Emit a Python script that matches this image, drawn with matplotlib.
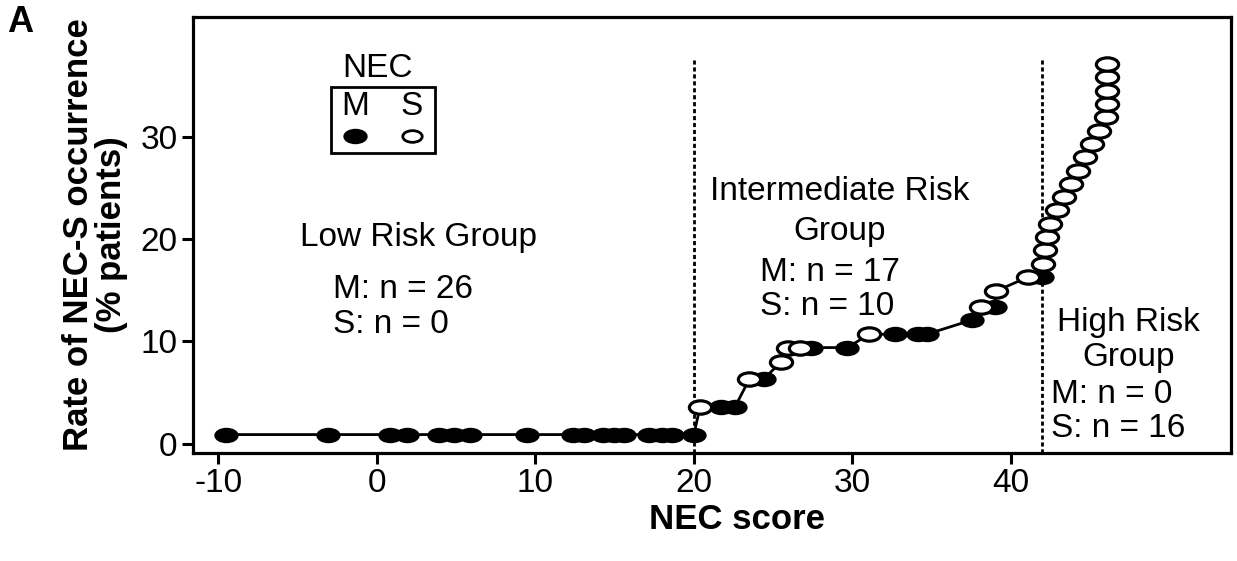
import numpy as np
import matplotlib
matplotlib.use("Agg")
import matplotlib.pyplot as plt
from matplotlib.path import Path
from matplotlib.patches import Rectangle

plt.rcParams['font.family'] = ['Liberation Sans', 'DejaVu Sans']
plt.rcParams['axes.unicode_minus'] = False

# ---- data ----
m_x = [-9.5, -3.05, 0.82, 1.9, 3.9, 4.85, 5.9, 9.45, 12.35, 13.05, 14.3, 14.95, 15.6,
       17.2, 18.0, 18.6, 20.0,
       21.7, 22.6, 24.4, 27.4, 29.7, 32.7, 34.15, 34.7, 37.56, 39.0, 42.0]
m_y = [0.9] * 17 + [3.6, 3.6, 6.3, 9.4, 9.4, 10.7, 10.7, 10.7, 12.1, 13.4, 16.3]

s_x = [20.4, 23.5, 25.5, 25.95, 26.7, 31.06, 38.15, 39.05, 41.1,
       42.05, 42.15, 42.3, 42.45, 42.9, 43.35, 43.8, 44.25, 44.7, 45.15, 45.6,
       46.0, 46.05, 46.05, 46.05, 46.05]
s_y = [3.6, 6.3, 8.0, 9.4, 9.4, 10.7, 13.4, 14.9, 16.3,
       17.6, 18.9, 20.2, 21.5, 22.8, 24.1, 25.4, 26.7, 28.0, 29.3, 30.6,
       31.9, 33.2, 34.5, 35.8, 37.1]

x_ticks = [-10, 0, 10, 20, 30, 40]
y_ticks = [0, 10, 20, 30]
cutoffs = [20, 42]

# ---- figure ----
fig = plt.figure(figsize=(12.37, 5.61), dpi=100)
ax = fig.add_axes([193 / 1237, 1 - 453 / 561, 1038 / 1237, 436 / 561])
ax.set_xlim(-11.6, 53.9)
ax.set_ylim(-0.9, 41.7)

circ = Path.unit_circle()
ell = Path(circ.vertices * np.array([1.0, 0.6]), circ.codes)

# connecting line through all points, ordered by score
pts = sorted(zip(m_x + s_x, m_y + s_y))
ax.plot([p[0] for p in pts], [p[1] for p in pts], color='black', lw=2.0, zorder=2)

ax.plot(m_x, m_y, ls='none', marker=ell, ms=16, mfc='black', mec='black',
        mew=1.5, zorder=3)
ax.plot(s_x, s_y, ls='none', marker=ell, ms=16, mfc='white', mec='black',
        mew=2.3, zorder=4)

ax.vlines(cutoffs, -0.9, 37.7, colors='black', lw=2.0,
          linestyles=[(0, (1.5, 1.0))], zorder=1)

for sp in ax.spines.values():
    sp.set_linewidth(2.3)
ax.set_xticks(x_ticks)
ax.set_yticks(y_ticks)
ax.tick_params(axis='both', length=8, width=2.2, labelsize=24, pad=3)

ax.set_xlabel('NEC score', fontsize=25, fontweight='bold')
ax.xaxis.set_label_coords(0.524, -0.115)
ax.set_ylabel('Rate of NEC-S occurrence\n(% patients)', fontsize=25,
              fontweight='bold', linespacing=1.0)
ax.yaxis.set_label_coords(-0.063, 0.5)

fs = 24
ax.text(0.217, 0.495, 'Low Risk Group', transform=ax.transAxes, fontsize=fs,
        ha='center', va='center')
ax.text(0.1349, 0.374, 'M: n = 26', transform=ax.transAxes, fontsize=fs,
        ha='left', va='center')
ax.text(0.1349, 0.294, 'S: n = 0', transform=ax.transAxes, fontsize=fs,
        ha='left', va='center')

ax.text(0.623, 0.599, 'Intermediate Risk', transform=ax.transAxes, fontsize=fs,
        ha='center', va='center')
ax.text(0.623, 0.507, 'Group', transform=ax.transAxes, fontsize=fs,
        ha='center', va='center')
ax.text(0.546, 0.413, 'M: n = 17', transform=ax.transAxes, fontsize=fs,
        ha='left', va='center')
ax.text(0.546, 0.335, 'S: n = 10', transform=ax.transAxes, fontsize=fs,
        ha='left', va='center')

ax.text(0.901, 0.300, 'High Risk', transform=ax.transAxes, fontsize=fs,
        ha='center', va='center')
ax.text(0.901, 0.220, 'Group', transform=ax.transAxes, fontsize=fs,
        ha='center', va='center')
ax.text(0.827, 0.135, 'M: n = 0', transform=ax.transAxes, fontsize=fs,
        ha='left', va='center')
ax.text(0.827, 0.057, 'S: n = 16', transform=ax.transAxes, fontsize=fs,
        ha='left', va='center')

# legend box
ax.text(0.178, 0.883, 'NEC', transform=ax.transAxes, fontsize=fs,
        ha='center', va='center')
ax.add_patch(Rectangle((0.133, 0.688), 0.100, 0.151, transform=ax.transAxes,
                       fill=False, lw=2.0, ec='black', zorder=5))
ax.text(0.156, 0.795, 'M', transform=ax.transAxes, fontsize=fs,
        ha='center', va='center')
ax.text(0.211, 0.795, 'S', transform=ax.transAxes, fontsize=fs,
        ha='center', va='center')
ax.plot([0.156], [0.727], transform=ax.transAxes, marker=ell, ms=16,
        mfc='black', mec='black', mew=1.5, ls='none')
ax.plot([0.211], [0.727], transform=ax.transAxes, marker=ell, ms=14,
        mfc='white', mec='black', mew=2.0, ls='none')

fig.text(20 / 1237, 1 - 23 / 561, 'A', fontsize=26, fontweight='bold',
         ha='center', va='center')

fig.savefig('out.png', dpi=100)
